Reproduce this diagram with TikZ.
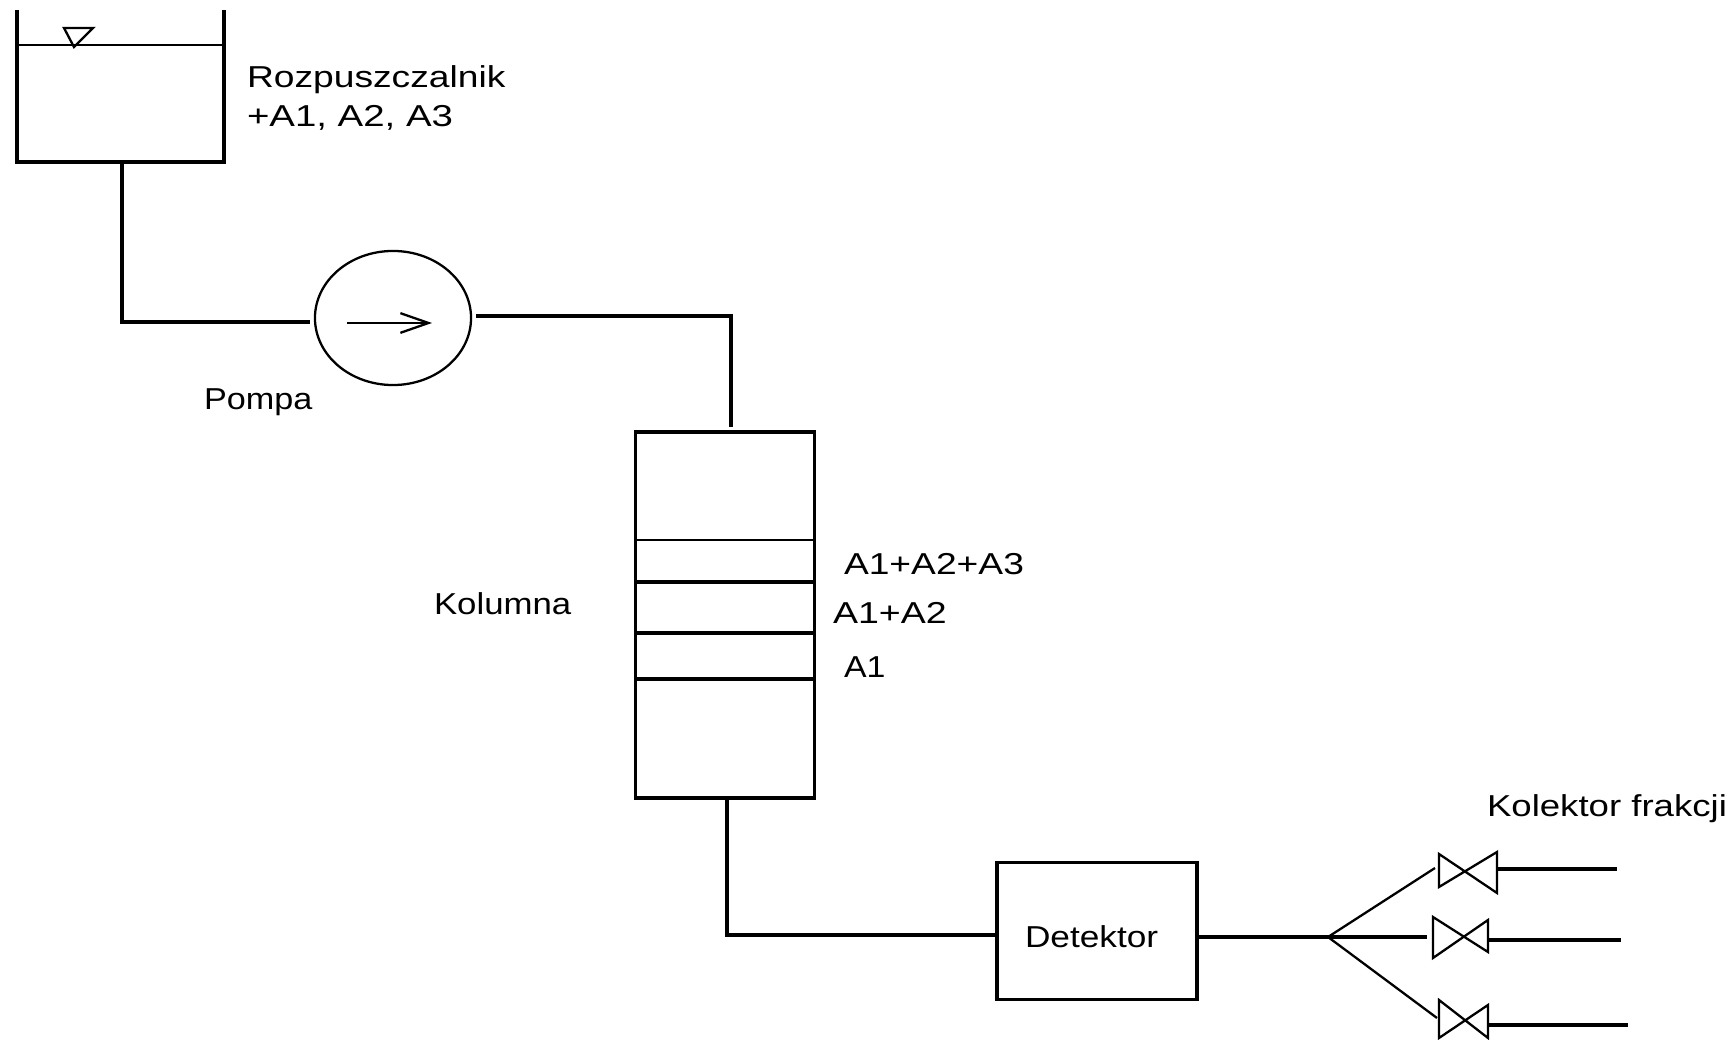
\documentclass[tikz,border=0pt]{standalone}
\usepackage{fontspec}
\setmainfont{Liberation Sans}
\usetikzlibrary{arrows.meta, shapes.geometric}
\begin{document}
\begin{tikzpicture}[x=0.01cm, y=-0.01cm,
  every node/.style={inner sep=0pt, outer sep=0pt},
  e/.style={line width=0.95pt},
  thin line/.style={line width=0.65pt},
  lbl/.style={anchor=base west, font=\fontsize{8.6pt}{10pt}\selectfont\addfontfeatures{FakeStretch=#1}},
  box/.style={draw, line width=0.95pt, rectangle}
]
\useasboundingbox (0,0) rectangle (1735,1040);

% --- tank, open at the top ---
\draw[e] (17,10) -- (17,162) -- (224,162) -- (224,10);
\draw[thin line] (17,45) -- (224,45);
\draw[thin line] (64,28) -- (93,28) -- (74,47) -- cycle;
\coordinate (tankout) at (122,162);
\node[lbl=1.23] (solvent) at (247,88) {Rozpuszczalnik};
\node[lbl=1.27] (mix) at (247,127) {+A1, A2, A3};

% --- pump ---
\node[draw, ellipse, thin line, minimum width=1.56cm, minimum height=1.34cm] (pump) at (393,318) {};
\coordinate (pumpin) at (310,322);
\coordinate (pumpout) at (476,316);
\coordinate (arrowstart) at (347,323);
\coordinate (arrowend) at (432,323);
\draw[thin line, -{Straight Barb[length=8pt, width=5.6pt]}] (arrowstart) -- (arrowend);
\node[lbl=1.13] (pumplabel) at (204,410) {Pompa};

% --- column ---
\node[box, minimum width=1.79cm, minimum height=3.66cm] (col) at (725,615) {};
\coordinate (colin) at (731,427);
\coordinate (colout) at (727,798);
\coordinate (bend) at (727,935);
\draw[thin line] (col.west |- 0,540) -- (col.east |- 0,540);
\draw[e] (col.west |- 0,582) -- (col.east |- 0,582);
\draw[e] (col.west |- 0,633) -- (col.east |- 0,633);
\draw[e] (col.west |- 0,679) -- (col.east |- 0,679);
\node[lbl=1.15] (collabel) at (434,615) {Kolumna};
\node[lbl=1.23] (band3) at (844,575) {A1+A2+A3};
\node[lbl=1.24] (band2) at (833,624) {A1+A2};
\node[lbl=1.12] (band1) at (844,678) {A1};

% --- detector ---
\node[box, minimum width=2cm, minimum height=1.37cm] (det) at (1097,931) {};
\node[lbl=1.165] (detlabel) at (1025,948) {Detektor};

% --- valves, each a bow tie ---
\coordinate (fork) at (1328,937);
\coordinate (v1in) at (1435,868);
\coordinate (v2in) at (1427,937);
\coordinate (v3in) at (1437,1018);
\coordinate (v1out) at (1497,869);
\coordinate (v2out) at (1488,940);
\coordinate (v3out) at (1488,1025);
\coordinate (end1) at (1617,869);
\coordinate (end2) at (1621,940);
\coordinate (end3) at (1628,1025);
\draw[thin line] (1439,854) -- (1497,893) -- (1497,852) -- (1439,887) -- cycle;
\draw[thin line] (1433,917) -- (1488,952) -- (1488,920) -- (1433,958) -- cycle;
\draw[thin line] (1439,1000) -- (1488,1038) -- (1488,1005) -- (1439,1038) -- cycle;
\node[lbl=1.21] (collector) at (1487,817) {Kolektor frakcji};

% --- connectors ---
\draw[e] (tankout) -- (tankout |- pumpin) -- (pumpin);
\draw[e] (pumpout) -- (pumpout -| colin) -- (colin);
\draw[e] (colout) -- (bend) -- (bend -| det.west);
\draw[e] (det.east |- fork) -- (fork);
\draw[thin line] (fork) -- (v1in);
\draw[e] (fork) -- (v2in);
\draw[thin line] (fork) -- (v3in);
\draw[e] (v1out) -- (end1);
\draw[e] (v2out) -- (end2);
\draw[e] (v3out) -- (end3);

\end{tikzpicture}
\end{document}
